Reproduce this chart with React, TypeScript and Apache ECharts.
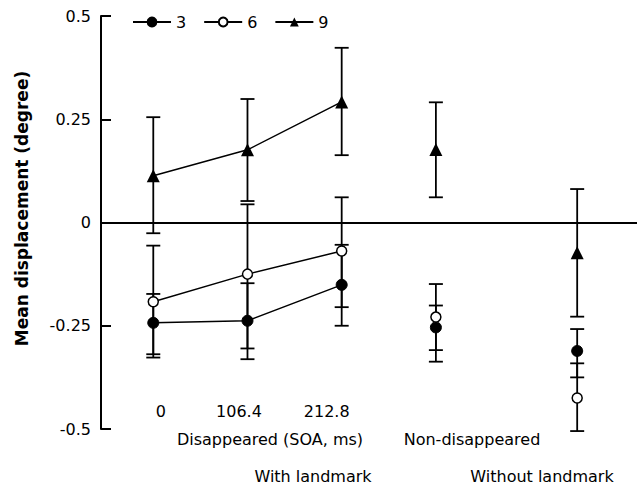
import React, { useEffect, useRef } from "react";
import * as echarts from "echarts";

// Condition positions along the x axis: SOA 0, 106.4, 212.8, Non-disappeared, Without landmark
const xPositions = [0, 1, 2, 3, 4.5];
const xTickValues = [0, 1, 2];
const xTickLabels = ["0", "106.4", "212.8"];
const groupNames = ["3", "6", "9"];
const connectedCount = 3;

const mean3 = [-0.243, -0.238, -0.151, -0.254, -0.311];
const low3 = [-0.319, -0.331, -0.25, -0.337, -0.375];
const high3 = [-0.173, -0.147, -0.054, -0.201, -0.258];

const mean6 = [-0.192, -0.125, -0.069, -0.229, -0.425];
const low6 = [-0.327, -0.305, -0.205, -0.309, -0.505];
const high6 = [-0.056, 0.044, 0.061, -0.149, -0.341];

const mean9 = [0.113, 0.176, 0.292, 0.177, -0.073];
const low9 = [-0.026, 0.052, 0.163, 0.061, -0.228];
const high9 = [0.255, 0.299, 0.423, 0.291, 0.081];

const FONT = "DejaVu Sans";

function lineData(mean: number[]) {
  const out: any[] = [];
  mean.forEach((m, i) => {
    if (i >= connectedCount) out.push([xPositions[i] - 0.5, "-"]);
    out.push([xPositions[i], m]);
  });
  return out;
}

function errData(low: number[], high: number[]) {
  return xPositions.map((x, i) => [x, low[i], high[i]]);
}

export default function App() {
  const ref = useRef<HTMLDivElement>(null);
  useEffect(() => {
    if (!ref.current) return;
    const chart = echarts.init(ref.current, undefined, { renderer: "svg" });
    const xMin = -0.555;
    const xMax = 5.135;
    const symbols = [
      { symbol: "circle", size: 11, item: { color: "#000", borderColor: "#000", borderWidth: 1 } },
      { symbol: "circle", size: 10, item: { color: "#fff", borderColor: "#000", borderWidth: 1.5 } },
      { symbol: "triangle", size: 13, item: { color: "#000", borderColor: "#000", borderWidth: 0 } },
    ];
    const means = [mean3, mean6, mean9];
    const lows = [low3, low6, low9];
    const highs = [high3, high6, high9];
    const lab = { fontSize: 16, fontFamily: FONT, color: "#000" };
    const richShift: any = {
      l0: { ...lab, padding: [0, 0, 0, 15] },
      l1: { ...lab, padding: [0, 17, 0, 0] },
      l2: { ...lab, padding: [0, 30, 0, 0] },
    };
    const errSeries = groupNames.map((g, gi) => ({
      type: "custom",
      name: "err" + g,
      z: 1,
      silent: true,
      encode: { x: 0, y: [1, 2] },
      data: errData(lows[gi], highs[gi]),
      renderItem: (params: any, api: any) => {
        const x = api.value(0);
        const lo = api.coord([x, api.value(1)]);
        const hi = api.coord([x, api.value(2)]);
        const w = 7;
        const st = { stroke: "#000", lineWidth: 1.8 };
        return {
          type: "group",
          children: [
            { type: "line", shape: { x1: lo[0], y1: lo[1], x2: hi[0], y2: hi[1] }, style: st },
            { type: "line", shape: { x1: lo[0] - w, y1: lo[1], x2: lo[0] + w, y2: lo[1] }, style: st },
            { type: "line", shape: { x1: hi[0] - w, y1: hi[1], x2: hi[0] + w, y2: hi[1] }, style: st },
          ],
        };
      },
    }));
    const lineSeries = groupNames.map((g, gi) => ({
      type: "line",
      name: g,
      z: 3,
      data: lineData(means[gi]),
      connectNulls: false,
      symbol: symbols[gi].symbol,
      symbolSize: symbols[gi].size,
      showAllSymbol: true,
      lineStyle: { color: "#000", width: 1.5 },
      itemStyle: symbols[gi].item,
    }));
    const textFont = `16px "${FONT}"`;
    chart.setOption({
      animation: false,
      backgroundColor: "#fff",
      grid: { left: 101, right: 0, top: 16, bottom: 57, containLabel: false },
      legend: {
        data: groupNames,
        left: 132,
        top: 14,
        padding: 0,
        itemWidth: 38,
        itemHeight: 11,
        itemGap: 17,
        textStyle: { fontSize: 16, fontFamily: FONT, color: "#000" },
      },
      xAxis: [
        {
          type: "value",
          min: xMin,
          max: xMax,
          axisLine: { show: true, onZero: true, lineStyle: { color: "#000", width: 2 } },
          axisTick: { show: false },
          axisLabel: { show: false },
          splitLine: { show: false },
        },
        {
          type: "value",
          position: "bottom",
          min: xMin,
          max: xMax,
          axisLine: { show: false, onZero: false },
          axisTick: { show: false },
          splitLine: { show: false },
          axisLabel: {
            show: true,
            inside: true,
            margin: 10,
            customValues: xTickValues,
            formatter: (v: number) => {
              const i = xTickValues.indexOf(v);
              return i >= 0 ? "{l" + i + "|" + xTickLabels[i] + "}" : "";
            },
            rich: richShift,
          },
        },
      ],
      yAxis: {
        type: "value",
        min: -0.5,
        max: 0.5,
        interval: 0.25,
        name: "Mean displacement (degree)",
        nameLocation: "middle",
        nameGap: 71,
        nameTextStyle: { fontSize: 17, fontWeight: "bold", fontFamily: FONT, color: "#000", padding: [0, 0, 0, 28] },
        axisLine: { show: true, onZero: false, lineStyle: { color: "#000", width: 2 } },
        axisTick: { show: true, inside: true, length: 10, lineStyle: { color: "#000", width: 2 } },
        axisLabel: { margin: 10, fontSize: 16, fontFamily: FONT, color: "#000" },
        splitLine: { show: false },
      },
      graphic: [
        {
          type: "text",
          x: 270,
          y: 439,
          style: { text: "Disappeared (SOA, ms)", fill: "#000", font: textFont, align: "center", verticalAlign: "middle" },
        },
        {
          type: "text",
          x: 472,
          y: 439,
          style: { text: "Non-disappeared", fill: "#000", font: textFont, align: "center", verticalAlign: "middle" },
        },
        {
          type: "text",
          x: 313,
          y: 476,
          style: { text: "With landmark", fill: "#000", font: textFont, align: "center", verticalAlign: "middle" },
        },
        {
          type: "text",
          x: 542,
          y: 476,
          style: { text: "Without landmark", fill: "#000", font: textFont, align: "center", verticalAlign: "middle" },
        },
      ],
      series: [...errSeries, ...lineSeries],
    });
    return () => chart.dispose();
  }, []);
  return (
    <div
      ref={ref}
      style={{ position: "fixed", left: 0, top: 0, width: 637, height: 486, background: "#fff" }}
    />
  );
}
